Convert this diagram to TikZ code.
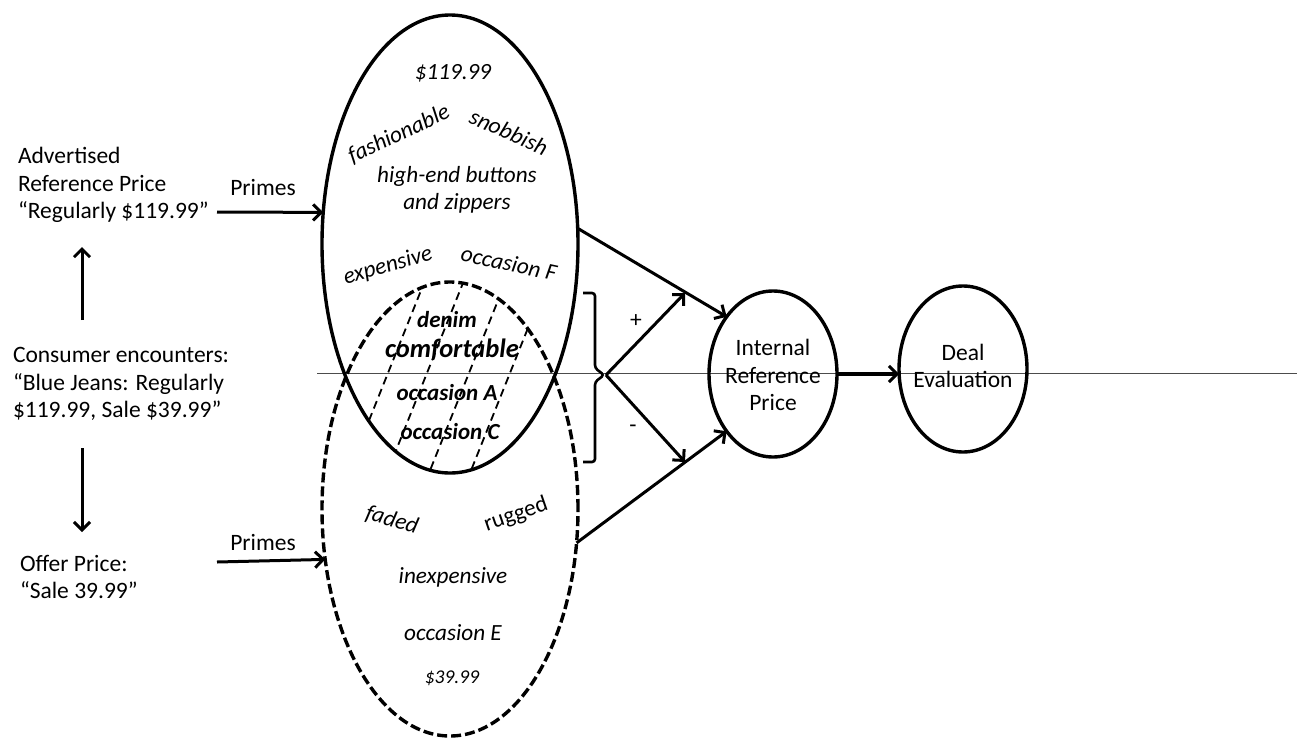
\documentclass[tikz,border=0pt]{standalone}
\usepackage{fontspec}
\setmainfont{Carlito}
\usetikzlibrary{shapes.geometric,arrows.meta}
\begin{document}
\begin{tikzpicture}[x=1pt,y=-1pt,
  every node/.style={font=\fontsize{23.5}{27.5}\selectfont, inner sep=0pt, outer sep=0pt},
  arr/.style={line width=3pt, -{Straight Barb[length=8pt,width=16pt]}},
  oval/.style={draw, ellipse, line width=3.4pt, inner sep=0pt, outer sep=0pt},
  word/.style={font=\fontsize{23.2}{27}\selectfont\itshape},
  upword/.style={font=\fontsize{23.2}{27}\selectfont},
  bword/.style={font=\fontsize{23}{27}\selectfont\bfseries\itshape},
  hatch/.style={line width=1.8pt, dash pattern=on 8pt off 5pt},
]
\useasboundingbox (0,0) rectangle (1301,739);

% scan line
\draw[black!70, line width=1pt] (317,373) -- (1297,373);

% big ellipses
\node[oval, minimum width=256pt, minimum height=458pt] (top) at (450,244) {};
\node[oval, dash pattern=on 10pt off 4pt, minimum width=256pt, minimum height=454pt] (bot) at (450,509) {};

% hatching of the overlap
\begin{scope}
  \clip (450,244) ellipse [x radius=128pt, y radius=229pt];
  \clip (450,509) ellipse [x radius=128pt, y radius=227pt];
  \foreach \x in {388,427,469,510}
    \draw[hatch] (\x-48,493) -- (\x+88,153);
\end{scope}

% right ellipses
\node[oval, minimum width=128pt, minimum height=166pt] (irp) at (773,374) {};
\node (irptext) [align=center] at (773,375) {Internal\\Reference\\Price};
\node[oval, minimum width=128pt, minimum height=166pt] (deal) at (963,369) {};
\node (dealtext) [align=center] at (963,366) {Deal\\Evaluation};

% left texts
\node (adv) [anchor=west, align=left] at (18,185) {Advertised\\Reference Price\\“Regularly \$119.99”};
\node (cons) [anchor=west, align=left] at (13,384) {Consumer encounters:\\“Blue Jeans: Regularly\\\$119.99, Sale \$39.99”};
\node (offer) [anchor=west, align=left] at (20,577) {Offer Price:\\“Sale 39.99”};
\node (prim1) at (263,187) {Primes};
\node (prim2) at (263,542) {Primes};

\coordinate (upS) at (82,320);
\coordinate (upE) at (82,247);
\coordinate (dnS) at (82,448);
\coordinate (dnE) at (82,532);
\coordinate (ps1) at (217,212);
\coordinate (ps2) at (217,562);

\draw[arr] (upS) -- (upE);
\draw[arr] (dnS) -- (dnE);
\draw[arr] (ps1) -- (top.166);
\draw[arr] (ps2) -- (bot.202.6);

% words in the top ellipse
\node (w1) [word] at (453,73) {\$119.99};
\node (w2) [word, rotate=25] at (399,134) {fashionable};
\node (w3) [word, rotate=-24] at (509,132) {snobbish};
\node (w4) [word, align=center] at (457,190) {high-end buttons\\and zippers};
\node (w5) [word, rotate=16] at (388,266) {expensive};
\node (w6) [word, rotate=-12] at (509,263) {occasion F};
% overlap
\node (w7) [bword] at (447,320) {denim};
\node (w8) [bword, font=\fontsize{26.5}{30}\selectfont\bfseries\itshape] at (452,350) {comfortable};
\node (w9) [bword] at (447,393) {occasion A};
\node (w10) [bword] at (450,432) {occasion C};
% bottom ellipse
\node (w11) [word, rotate=-16] at (392,520) {faded};
\node (w12) [upword, rotate=19] at (516,515) {rugged};
\node (w13) [word] at (453,577) {inexpensive};
\node (w14) [word] at (453,633) {occasion E};
\node (w15) [word, font=\fontsize{19.5}{23}\selectfont\itshape] at (452,678) {\$39.99};

% bracket and fork
\draw[line width=2.6pt, rounded corners=3pt] (583,293) -- (595,293) -- (595,368) -- (604,375) -- (595,382) -- (595,462) -- (583,462);
\coordinate (fork) at (606,375);
\coordinate (plusend) at (685,293);
\coordinate (minusend) at (685,462);
\draw[arr] (fork) -- (plusend);
\draw[arr] (fork) -- (minusend);
\node (plus) at (636,321) {+};
\node (minus) at (633,429) {-};

\draw[arr] (top.7) -- (irp.129);
\draw[arr] (bot.-15) -- (irp.231);
\draw[line width=4.5pt, -{Straight Barb[length=8pt,width=16pt,line width=3pt]}] (irp.east) -- (irp.east -| deal.west);
\end{tikzpicture}
\end{document}
